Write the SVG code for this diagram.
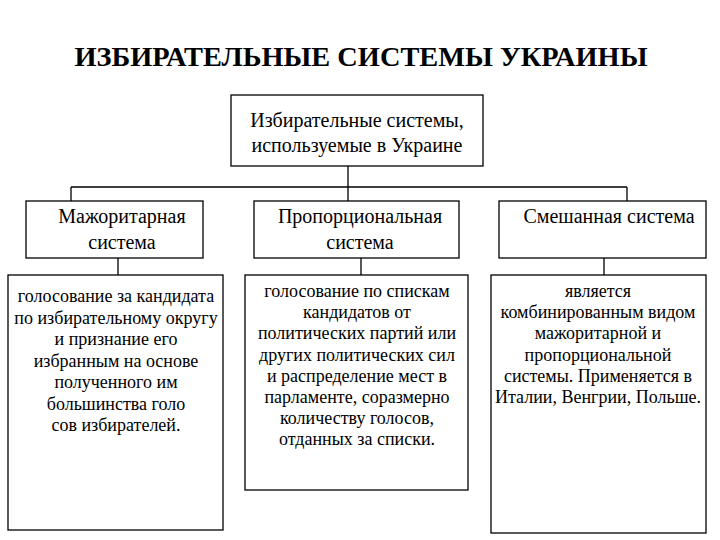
<svg xmlns="http://www.w3.org/2000/svg" width="720" height="540" viewBox="0 0 720 540">
<style>
text{font-family:"Liberation Serif","Times New Roman",serif;fill:#000;text-anchor:middle}
.box{fill:#fff;stroke:#000;stroke-width:1.3}
.t{font-size:28px;font-weight:bold}
.m{font-size:20px}
.s{font-size:18px}
.c{fill:none;stroke:#000;stroke-width:1.3}
</style>
<rect width="720" height="540" fill="#fff"/>
<text class="t" x="361" y="66" textLength="573" lengthAdjust="spacingAndGlyphs">ИЗБИРАТЕЛЬНЫЕ СИСТЕМЫ УКРАИНЫ</text>
<g id="connectors">
<path class="c" d="M348 166V187M71 187H627M71 187V201M348 187V201M627 187V201M118 258V275M361 258V275M604 258V275"/>
</g>
<g id="root">
<rect class="box" x="231" y="95" width="252" height="71"/>
<text class="m" x="357" y="127">Избирательные системы,</text>
<text class="m" x="357" y="152">используемые в Украине</text>
</g>
<g id="maj">
<rect class="box" x="26" y="201" width="177" height="57"/>
<text class="m" x="122" y="223">Мажоритарная</text>
<text class="m" x="122" y="249">система</text>
</g>
<g id="prop">
<rect class="box" x="254" y="201" width="205" height="57"/>
<text class="m" x="360" y="223">Пропорциональная</text>
<text class="m" x="360" y="249">система</text>
</g>
<g id="mix">
<rect class="box" x="499" y="201" width="207" height="57"/>
<text class="m" x="609" y="223">Смешанная система</text>
</g>
<g id="maj-desc">
<rect class="box" x="8" y="275" width="215" height="255"/>
<text class="s" x="116" y="302">голосование за кандидата</text>
<text class="s" x="116" y="323.5">по избирательному округу</text>
<text class="s" x="116" y="345">и признание его</text>
<text class="s" x="116" y="366.5">избранным на основе</text>
<text class="s" x="116" y="388">полученного им</text>
<text class="s" x="116" y="409.5">большинства голо</text>
<text class="s" x="116" y="431">сов избирателей.</text>
</g>
<g id="prop-desc">
<rect class="box" x="245" y="275" width="223" height="215"/>
<text class="s" x="357" y="297">голосование по спискам</text>
<text class="s" x="357" y="318.2">кандидатов от</text>
<text class="s" x="357" y="339.4">политических партий или</text>
<text class="s" x="357" y="360.6">других политических сил</text>
<text class="s" x="357" y="381.8">и распределение мест в</text>
<text class="s" x="357" y="403">парламенте, соразмерно</text>
<text class="s" x="357" y="424.2">количеству голосов,</text>
<text class="s" x="357" y="445.4">отданных за списки.</text>
</g>
<g id="mix-desc">
<rect class="box" x="491" y="275" width="215" height="258"/>
<text class="s" x="598" y="297">является</text>
<text class="s" x="598" y="318.2">комбинированным видом</text>
<text class="s" x="598" y="339.4">мажоритарной и</text>
<text class="s" x="598" y="360.6">пропорциональной</text>
<text class="s" x="598" y="381.8">системы. Применяется в</text>
<text class="s" x="598" y="403">Италии, Венгрии, Польше.</text>
</g>
</svg>
